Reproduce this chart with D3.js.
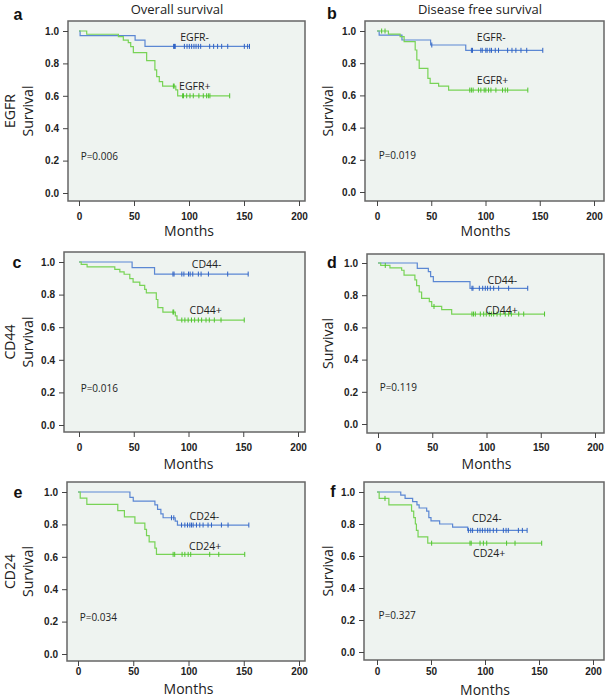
<!DOCTYPE html>
<html><head><meta charset="utf-8">
<script src="https://cdn.jsdelivr.net/npm/d3@7"></script>
<style>body{margin:0;background:#fff} svg{display:block}</style>
</head><body>
<svg id="chart" width="609" height="699"></svg>
<script>
// ---------------- DATA ----------------
const panelIds = ["a", "b", "c", "d", "e", "f"];
const columnTitles = ["Overall survival", "Disease free survival"];
const rowMarkers = ["EGFR", "CD44", "CD24"];
const pValues = ["P=0.006", "P=0.019", "P=0.016", "P=0.119", "P=0.034", "P=0.327"];
const xTicks = [0, 50, 100, 150, 200];
const yTicks = [0.0, 0.2, 0.4, 0.6, 0.8, 1.0];
const xAxisTitle = "Months";
const yAxisTitle = "Survival";

// group names per panel: [negative, positive]
const groupNames = [
  ["EGFR-", "EGFR+"], ["EGFR-", "EGFR+"],
  ["CD44-", "CD44+"], ["CD44-", "CD44+"],
  ["CD24-", "CD24+"], ["CD24-", "CD24+"]
];
// label anchor (month, survival) per group
const groupLabelPos = [
  [[92, 0.965], [91, 0.66]],
  [[92, 0.965], [92, 0.695]],
  [[103, 0.99], [101, 0.705]],
  [[101, 0.893], [99, 0.707]],
  [[101, 0.853], [100.5, 0.668]],
  [[88, 0.836], [89, 0.617]]
];

// Kaplan-Meier steps [month, survival], last follow-up, censor months
const aNegSteps = [[0, 1], [1, 0.971], [51, 0.944], [60, 0.905]];
const aNegEnd = 155;
const aNegCens = [86, 86.8, 87.5, 95.8, 98.2, 100.3, 102.4, 104.5, 106.4, 108.5, 110.6, 118.8, 122.4, 126, 129.7, 135.2, 150.3, 153.3, 155];
const aPosSteps = [[0, 1], [7, 0.98], [35.8, 0.965], [40.3, 0.944], [44.8, 0.928], [47, 0.903], [49.4, 0.866], [61.5, 0.817], [69, 0.76], [70.6, 0.718], [73, 0.687], [76, 0.66], [88, 0.636], [89.7, 0.60]];
const aPosEnd = 137;
const aPosCens = [85.8, 86.5, 94.2, 95, 97.9, 100.9, 103.9, 109, 113, 116, 117.6, 119, 137];

const bNegSteps = [[0, 1], [2, 0.975], [23, 0.944], [49.4, 0.913], [81.8, 0.88]];
const bNegEnd = 152.8;
const bNegCens = [50.5, 87, 88, 95.7, 97, 100.3, 101.5, 104, 105.5, 109, 112, 120.4, 124.4, 128, 132.7, 138, 152.8];
const bPosSteps = [[0, 1], [10.5, 0.98], [21.3, 0.965], [25, 0.934], [35.2, 0.882], [36.7, 0.82], [38.9, 0.768], [46.9, 0.706], [49, 0.675], [56.8, 0.658], [66, 0.633]];
const bPosEnd = 139;
const bPosCens = [4.3, 7.4, 85.5, 87, 88.6, 93.5, 95.7, 98.8, 100.3, 102.8, 105, 109.6, 115.7, 118.2, 120.4, 139];

const cNegSteps = [[0, 1], [48.5, 0.965], [69, 0.926]];
const cNegEnd = 154.5;
const cNegCens = [85.8, 86.8, 93.9, 95.8, 100, 101.5, 103.9, 109, 111.5, 118.2, 135.8, 154.5];
const cPosSteps = [[0, 1], [2, 0.985], [7.4, 0.97], [32.7, 0.955], [37.3, 0.94], [41.2, 0.925], [46.4, 0.898], [49.4, 0.877], [55.5, 0.857], [60, 0.832], [61.5, 0.81], [70.6, 0.77], [72, 0.72], [76.6, 0.693], [88, 0.669], [89.5, 0.644]];
const cPosEnd = 150.9;
const cPosCens = [85.8, 86.5, 93.9, 96.7, 99.7, 102.7, 105.6, 109, 112, 116, 119, 123.6, 129.7, 150.9];

const dNegSteps = [[0, 1], [36.2, 0.967], [46.4, 0.946], [48.5, 0.915], [51, 0.884], [84.8, 0.843]];
const dNegEnd = 138;
const dNegCens = [86.6, 87.5, 93.4, 96.5, 98.9, 101, 103.5, 106.6, 111.2, 120.4, 138];
const dPosSteps = [[0, 1], [2.5, 0.985], [11, 0.97], [21.8, 0.955], [24, 0.925], [34, 0.895], [35.6, 0.86], [38, 0.82], [40.2, 0.78], [47.3, 0.76], [49.5, 0.73], [58.7, 0.71], [67.9, 0.683]];
const dPosEnd = 153.5;
const dPosCens = [6.7, 51.6, 86.6, 88, 89.7, 94.3, 97.4, 99.8, 102.6, 104.5, 106.6, 109.7, 112.7, 117.3, 120.4, 122.9, 129.7, 134.3, 153.5];

const eNegSteps = [[0, 1], [47, 0.967], [50, 0.944], [69.6, 0.92], [72, 0.893], [75, 0.865], [77, 0.841], [88, 0.82], [90, 0.796]];
const eNegEnd = 154.6;
const eNegCens = [84.6, 86.7, 93.7, 96.7, 99.1, 101.2, 102.7, 104.2, 107.2, 110.2, 113.2, 117.7, 120.8, 129.8, 135.8, 154.6];
const ePosSteps = [[0, 1], [2, 0.962], [8, 0.923], [36, 0.885], [42, 0.846], [51.5, 0.808], [60.5, 0.769], [62, 0.731], [64.4, 0.692], [69.6, 0.654], [71, 0.615]];
const ePosEnd = 150.9;
const ePosCens = [86.1, 87.5, 94.2, 96.7, 99.7, 102, 119.2, 127.4, 150.9];

const fNegSteps = [[0, 1], [22, 0.98], [26, 0.96], [33, 0.94], [37, 0.92], [39, 0.90], [46, 0.88], [48, 0.84], [50, 0.82], [58, 0.80], [70, 0.78], [84, 0.76]];
const fNegEnd = 139;
const fNegCens = [84.6, 86.8, 88.5, 93.2, 95.4, 97.6, 100, 102.5, 104.6, 107.7, 110.8, 117, 119.5, 121.6, 130.9, 134.6, 139];
const fPosSteps = [[0, 1], [2, 0.96], [11, 0.92], [32, 0.88], [34, 0.84], [35.5, 0.80], [36.5, 0.76], [38, 0.72], [47, 0.68]];
const fPosEnd = 152.5;
const fPosCens = [7.4, 50.6, 86.1, 87.2, 95.4, 98.5, 101.6, 120, 127.8, 152.5];

const seriesSteps = [[aNegSteps, aPosSteps], [bNegSteps, bPosSteps], [cNegSteps, cPosSteps], [dNegSteps, dPosSteps], [eNegSteps, ePosSteps], [fNegSteps, fPosSteps]];
const seriesEnd = [[aNegEnd, aPosEnd], [bNegEnd, bPosEnd], [cNegEnd, cPosEnd], [dNegEnd, dPosEnd], [eNegEnd, ePosEnd], [fNegEnd, fPosEnd]];
const seriesCens = [[aNegCens, aPosCens], [bNegCens, bPosCens], [cNegCens, cPosCens], [dNegCens, dPosCens], [eNegCens, ePosCens], [fNegCens, fPosCens]];

// ---------------- LAYOUT / STYLE ----------------
const layout = [
  {frame: [68, 21, 305, 201], xr: [79, 299], yr: [193, 31], tickLab: 220, months: 236, letter: [18, 20], surv: 28},
  {frame: [365, 21, 604, 201], xr: [377, 594], yr: [192, 31], tickLab: 220, months: 236, letter: [332, 19], surv: 328},
  {frame: [64, 252, 305, 432], xr: [79, 298], yr: [425, 262], tickLab: 451, months: 469, letter: [17, 268], surv: 28},
  {frame: [367, 254, 604, 433], xr: [378, 595], yr: [424, 263], tickLab: 451, months: 469, letter: [332, 268], surv: 328},
  {frame: [67, 482, 305, 661], xr: [78, 299], yr: [654, 492], tickLab: 675, months: 694, letter: [18, 498], surv: 28},
  {frame: [364, 482, 604, 660], xr: [377, 593], yr: [652, 492], tickLab: 675, months: 695, letter: [333, 497], surv: 328}
];
const colors = {neg: "#5b87d3", pos: "#78d356", negMark: "#2f62c4", posMark: "#4fc42f"};
const plotBg = "#eef3f0";
const textFont = "'Open Sans', 'DejaVu Sans', sans-serif";
const tickFont = "'Liberation Sans', Arial, sans-serif";

const svg = d3.select("#chart");

// column titles
svg.append("text").attr("x", 177).attr("y", 14).attr("text-anchor", "middle")
  .style("font-family", textFont).style("font-size", "13px").attr("fill", "#222").text(columnTitles[0]);
svg.append("text").attr("x", 480).attr("y", 14).attr("text-anchor", "middle")
  .style("font-family", textFont).style("font-size", "13px").attr("fill", "#222").text(columnTitles[1]);

panelIds.forEach((pid, i) => {
  const L = layout[i];
  const [fl, ft, fr, fb] = L.frame;
  const x = d3.scaleLinear().domain([0, 200]).range(L.xr);
  const y = d3.scaleLinear().domain([0, 1]).range(L.yr);
  const g = svg.append("g");

  g.append("rect").attr("x", fl).attr("y", ft).attr("width", fr - fl).attr("height", fb - ft)
    .attr("fill", plotBg).attr("stroke", "#666").attr("stroke-width", 1.5);

  // y axis
  const ya = g.append("g").attr("transform", `translate(${fl},0)`)
    .call(d3.axisLeft(y).tickValues(yTicks).tickFormat(d3.format(".1f")).tickSize(5).tickPadding(4));
  ya.select(".domain").remove();
  ya.selectAll("line").attr("stroke", "#444");
  ya.selectAll("text").style("font-family", tickFont).style("font-weight", "bold").style("font-size", "10px").attr("fill", "#222");

  // x axis
  const xa = g.append("g").attr("transform", `translate(0,${fb})`)
    .call(d3.axisBottom(x).tickValues(xTicks).tickFormat(d3.format("d")).tickSize(5).tickPadding(3));
  xa.select(".domain").remove();
  xa.selectAll("line").attr("stroke", "#444");
  xa.selectAll("text").attr("y", null).attr("dy", null)
    .attr("transform", `translate(0,${L.tickLab - fb})`)
    .style("font-family", tickFont).style("font-weight", "bold").style("font-size", "10px").attr("fill", "#222");

  // axis titles
  g.append("text").attr("x", (L.xr[0] + L.xr[1]) / 2).attr("y", L.months).attr("text-anchor", "middle")
    .style("font-family", textFont).style("font-size", "14px").attr("fill", "#222").text(xAxisTitle);
  const cy = (ft + fb) / 2;
  g.append("text").attr("transform", `translate(${L.surv + 5},${cy}) rotate(-90)`).attr("text-anchor", "middle")
    .style("font-family", textFont).style("font-size", "14px").attr("fill", "#222").text(yAxisTitle);
  if (i % 2 === 0) {
    g.append("text").attr("transform", `translate(${15},${cy}) rotate(-90)`).attr("text-anchor", "middle")
      .style("font-family", textFont).style("font-size", "14px").attr("fill", "#222").text(rowMarkers[i / 2]);
  }

  // panel letter
  g.append("text").attr("x", L.letter[0]).attr("y", L.letter[1]).attr("text-anchor", "middle")
    .style("font-family", tickFont).style("font-weight", "bold").style("font-size", "16px").attr("fill", "#111").text(pid);

  // p-value
  g.append("text").attr("x", x(1.5)).attr("y", y(0.23) + 4)
    .style("font-family", textFont).style("font-size", "10px").attr("fill", "#222").text(pValues[i]);

  // curves
  ["neg", "pos"].forEach((key, k) => {
    const steps = seriesSteps[i][k];
    const end = seriesEnd[i][k];
    const pts = steps.concat([[end, steps[steps.length - 1][1]]]);
    const line = d3.line().x(d => x(d[0])).y(d => y(d[1])).curve(d3.curveStepAfter);
    g.append("path").datum(pts).attr("d", line).attr("fill", "none")
      .attr("stroke", colors[key]).attr("stroke-width", 1.2);
    const survAt = t => {
      let s = 1;
      steps.forEach(st => { if (st[0] <= t) s = st[1]; });
      return s;
    };
    g.selectAll(null).data(seriesCens[i][k]).enter().append("line")
      .attr("x1", d => x(d)).attr("x2", d => x(d))
      .attr("y1", d => y(survAt(d)) - 2.5).attr("y2", d => y(survAt(d)) + 2.5)
      .attr("stroke", colors[key + "Mark"]).attr("stroke-width", 1);
    const lp = groupLabelPos[i][k];
    g.append("text").attr("x", x(lp[0])).attr("y", y(lp[1]) + 4)
      .style("font-family", textFont).style("font-size", "10.5px").attr("fill", "#222").text(groupNames[i][k]);
  });
});
</script>
</body></html>
